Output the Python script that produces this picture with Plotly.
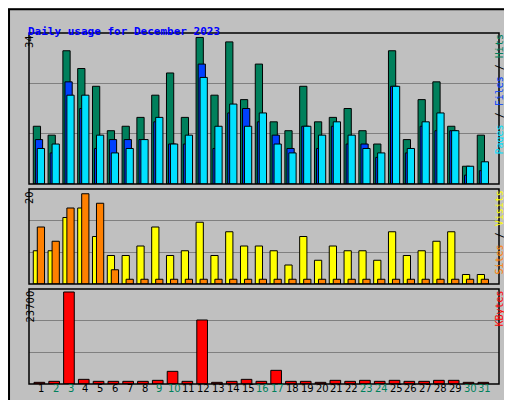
import plotly.graph_objects as go

days = list(range(1, 32))
weekend = [2, 3, 9, 10, 16, 17, 23, 24, 30, 31]
hits = [13, 11, 30, 26, 22, 12, 13, 15, 20, 25, 15, 33, 20, 32, 19, 27,
        14, 12, 22, 14, 15, 17, 12, 9, 30, 10, 19, 23, 13, 4, 11]
files = [10, 7, 23, 17, 8, 10, 10, 10, 14, 9, 9, 27, 8, 16, 17, 14,
         11, 8, 13, 8, 13, 9, 9, 6, 22, 7, 13, 12, 12, 2, 3]
pages = [8, 9, 20, 20, 11, 7, 8, 10, 15, 9, 11, 24, 13, 18, 13, 16,
         9, 7, 13, 11, 14, 11, 8, 7, 22, 8, 14, 16, 12, 4, 5]
visits = [7, 7, 14, 16, 10, 6, 6, 8, 12, 6, 7, 13, 6, 11, 8, 8,
          7, 4, 10, 5, 8, 7, 7, 5, 11, 6, 7, 9, 11, 2, 2]
sites = [12, 9, 16, 19, 17, 3, 1, 1, 1, 1, 1, 1, 1, 1, 1, 1,
         1, 1, 1, 1, 1, 1, 1, 1, 1, 1, 1, 1, 1, 1, 1]
kbytes = [415, 665, 22950, 1160, 665, 665, 665, 665, 915, 3160, 665, 15970, 415, 665, 1160, 665,
          3410, 665, 665, 415, 915, 665, 915, 665, 915, 665, 665, 915, 915, 415, 415]

fig = go.Figure()
line = dict(color="black", width=1)

def bar(y, color, off, w, axis):
    fig.add_trace(go.Bar(x=days, y=y, marker=dict(color=color, line=line),
                         offset=off, width=w, xaxis="x", yaxis=axis, showlegend=False))

bar(hits, "#00805c", -0.52, 0.49, "y")
bar(files, "#0040ff", -0.38, 0.49, "y")
bar(pages, "#00e0ff", -0.25, 0.49, "y")
bar(visits, "#ffff00", -0.52, 0.49, "y2")
bar(sites, "#ff8000", -0.25, 0.49, "y2")
bar(kbytes, "#ff0000", -0.47, 0.72, "y3")

x0, x1 = 21 / 512, 491 / 512
panels = [("y", 25, 176, 34), ("y2", 181, 276, 20), ("y3", 281, 376, 23700)]
mono = "DejaVu Sans Mono"
layout = dict(
    width=512, height=400, margin=dict(l=0, r=0, t=0, b=0),
    paper_bgcolor="#c0c0c0", plot_bgcolor="#c0c0c0", barmode="overlay",
    xaxis=dict(domain=[x0, x1], range=[0.19, 31.95], showticklabels=False,
               showgrid=False, zeroline=False, anchor="y3"),
)
shapes = [dict(type="rect", xref="paper", yref="paper", x0=0.002, x1=0.985,
               y0=0.003, y1=0.997, line=dict(color="black", width=2)),
          dict(type="rect", xref="paper", yref="paper", x0=0.985, x1=1,
               y0=0, y1=1, fillcolor="#808080", line=dict(width=0))]
annotations = [dict(text="<b>Daily usage for December 2023</b>", x=18 / 512, y=1 - 15 / 400,
                    xref="paper", yref="paper", xanchor="left", showarrow=False,
                    font=dict(family=mono, size=11, color="#0000ff"))]
for name, top, bot, mx in panels:
    key = "yaxis" if name == "y" else "yaxis" + name[1:]
    layout[key] = dict(domain=[1 - bot / 400, 1 - top / 400], range=[0, mx],
                       tickvals=[mx / 3, 2 * mx / 3], showticklabels=False,
                       gridcolor="#808080", zeroline=False, anchor="x")
    shapes.append(dict(type="rect", xref="paper", yref="paper", x0=x0, x1=x1,
                       y0=1 - bot / 400, y1=1 - top / 400, line=dict(color="black", width=1.5)))
    annotations.append(dict(text=str(mx), x=14 / 512, y=1 - top / 400, xref="paper", yref="paper",
                            textangle=-90, yanchor="top", showarrow=False,
                            font=dict(family="DejaVu Sans", size=10, color="black")))

right = [
    ('<span style="color:#00e0ff">Pages</span> / <span style="color:#0040ff">Files</span>'
     ' / <span style="color:#00805c">Hits</span>', 25, 176),
    ('<span style="color:#ff8000">Sites</span> / <span style="color:#ffff00">Visits</span>', 181, 276),
    ('<span style="color:#ff0000">KBytes</span>', 281, 376),
]
for txt, top, bot in right:
    annotations.append(dict(text=txt, x=498 / 512, y=1 - top / 400, xref="paper", yref="paper",
                            textangle=-90, yanchor="top", showarrow=False,
                            font=dict(family=mono, size=10, color="black")))
for d in days:
    annotations.append(dict(text=str(d), x=d, y=1 - 388 / 400, xref="x", yref="paper",
                            showarrow=False,
                            font=dict(family="DejaVu Sans", size=10,
                                      color="#00805c" if d in weekend else "black")))

layout["shapes"] = shapes
layout["annotations"] = annotations
fig.update_layout(**layout)
fig.write_html("out.html")
